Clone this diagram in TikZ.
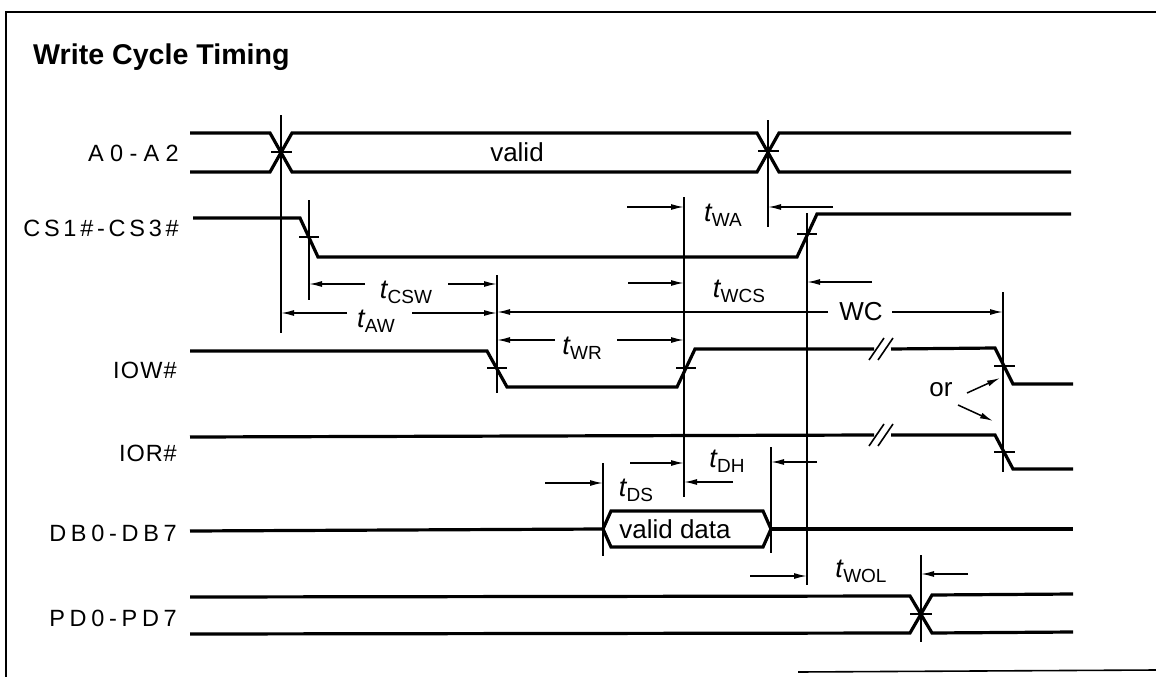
\documentclass[tikz,border=0pt]{standalone}
\usepackage{fontspec}
\setmainfont{Liberation Sans}
\usetikzlibrary{arrows.meta}
\newcommand{\tlab}[1]{{\fontsize{27}{30}\selectfont\itshape t}\kern0.3pt\raisebox{-5pt}{\fontsize{19}{21}\selectfont #1}}
\tikzset{
  sig/.style={line width=3.2pt, line join=miter},
  refl/.style={line width=1.6pt},
  tickm/.style={line width=1.9pt},
  dim/.style={line width=1.5pt, -{Latex[length=13pt,width=6pt]}},
  frame/.style={line width=1.6pt},
  siglab/.style={anchor=east, inner sep=0pt, font=\fontsize{23.5}{27}\selectfont\addfontfeature{LetterSpace=#1}},
  tl/.style={inner sep=0pt},
  txt/.style={inner sep=0pt, font=\fontsize{26}{30}\selectfont},
}
\begin{document}
\begin{tikzpicture}[x=1pt,y=-1pt]
\useasboundingbox (0,0) rectangle (1156,677);
% frame
\draw[frame] (1156,12) -- (6,12) -- (6,677);
\draw[frame] (798,672) -- (1156,670);
% title
\node[anchor=base west, inner sep=0pt, font=\bfseries\fontsize{28.6}{33}\selectfont] (title) at (33,64) {Write Cycle Timing};
% signal labels
\node[siglab=27] (lA) at (179,153) {A0-A2};
\node[siglab=16] (lCS) at (179,228) {CS1\#-CS3\#};
\node[siglab=5] (lIOW) at (177,370) {IOW\#};
\node[siglab=4] (lIOR) at (177,453) {IOR\#};
\node[siglab=20] (lDB) at (177,533) {DB0-DB7};
\node[siglab=20] (lPD) at (177,618) {PD0-PD7};
% A0-A2 bus
\draw[sig] (190,133) -- (270,133) -- (292,172) -- (757,172) -- (779,133) -- (1071,133);
\draw[sig] (190,172) -- (270,172) -- (292,133) -- (757,133) -- (779,172) -- (1071,172);
\node[txt] (valid) at (517,152) {valid};
% CS
\draw[sig] (193,218) -- (300,218) -- (318,257) -- (797,257) -- (817,214) -- (1071,214);
% IOW
\draw[sig] (190,351) -- (487,351) -- (507,387) -- (677,387) -- (695,349) -- (874,349);
\draw[sig] (891,349) -- (995,348) -- (1013,384) -- (1073,384);
\draw[refl] (869,360) -- (884,338) (878,360) -- (893,338);
% IOR
\draw[sig] (190,437) -- (874,435);
\draw[sig] (891,435) -- (995,435) -- (1013,469) -- (1073,469);
\draw[refl] (869,446) -- (884,424) (878,446) -- (893,424);
% DB
\draw[sig] (190,531) -- (603,529);
\draw[sig] (603,529) -- (611,511) -- (763,511) -- (771,529) -- (763,547) -- (611,547) -- cycle;
\draw[sig] (771,529) -- (1073,529);
\node[txt] (vdata) at (675,529) {valid data};
% PD
\draw[sig] (190,597) -- (910,596) -- (932,633) -- (1073,632);
\draw[sig] (190,634) -- (910,633) -- (932,595) -- (1073,594);
% ticks
\draw[tickm] (271,152) -- (292,152);
\draw[tickm] (758,151) -- (779,151);
\draw[tickm] (299,237) -- (319,237);
\draw[tickm] (797,234) -- (817,234);
\draw[tickm] (487,368) -- (507,368);
\draw[tickm] (676,368) -- (696,368);
\draw[tickm] (994,366) -- (1015,366);
\draw[tickm] (994,452) -- (1015,452);
\draw[tickm] (910,614) -- (932,614);
% reference verticals
\draw[refl] (281,115) -- (281,333);
\draw[refl] (309,200) -- (309,300);
\draw[refl] (497,275) -- (497,393);
\draw[refl] (684,197) -- (684,497);
\draw[refl] (768,120) -- (768,227);
\draw[refl] (807,213) -- (807,585);
\draw[refl] (1003,292) -- (1003,472);
\draw[refl] (603,463) -- (603,556);
\draw[refl] (771,447) -- (771,553);
\draw[refl] (921,555) -- (921,642);
% tWA
\draw[dim] (627,207) -- (684,207);
\draw[dim] (833,207) -- (768,207);
\node[tl] (tWA) at (723,215) {\tlab{WA}};
% tWCS
\draw[dim] (628,283) -- (684,283);
\draw[dim] (872,282) -- (807,282);
\node[tl] (tWCS) at (739,291) {\tlab{WCS}};
% tCSW
\draw[dim] (365,284) -- (309,284);
\draw[dim] (448,284) -- (497,284);
\node[tl] (tCSW) at (406,292) {\tlab{CSW}};
% tAW
\draw[dim] (347,313) -- (281,313);
\draw[dim] (412,313) -- (497,313);
\node[tl] (tAW) at (376,321) {\tlab{AW}};
% WC
\draw[dim] (828,312) -- (497,312);
\draw[dim] (892,312) -- (1003,312);
\node[txt] (WC) at (861,312) {WC};
% tWR
\draw[dim] (555,340) -- (497,340);
\draw[dim] (617,340) -- (684,340);
\node[tl] (tWR) at (582,348) {\tlab{WR}};
% tDS
\draw[dim] (545,483) -- (603,483);
\draw[dim] (733,482) -- (684,482);
\node[tl] (tDS) at (636,490) {\tlab{DS}};
% tDH
\draw[dim] (630,463) -- (684,463);
\draw[dim] (817,462) -- (771,462);
\node[tl] (tDH) at (727,461) {\tlab{DH}};
% tWOL
\draw[dim] (750,576) -- (807,576);
\draw[dim] (968,574) -- (921,574);
\node[tl] (tWOL) at (861,571) {\tlab{WOL}};
% or
\node[txt] (or) at (941,390) {or};
\draw[dim] (967,393) -- (1000,378);
\draw[dim] (958,405) -- (993,421);
\end{tikzpicture}
\end{document}
